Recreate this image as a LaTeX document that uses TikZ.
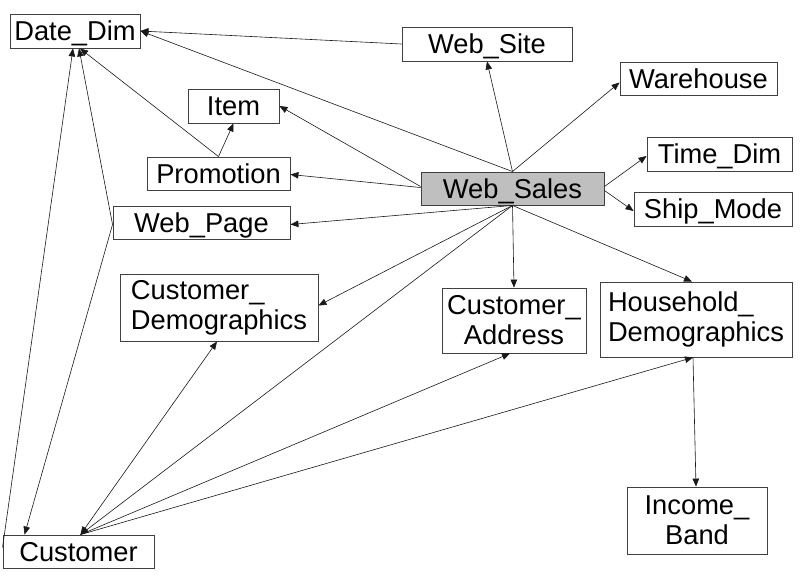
\documentclass[tikz,border=0pt]{standalone}
\usepackage{fontspec}
\setmainfont{Liberation Sans}
\usetikzlibrary{arrows.meta,calc}
\begin{document}
\begin{tikzpicture}[x=1pt,y=-1pt,
  tbl/.style={draw=black!75,line width=0.9pt,fill=white,inner sep=0pt,
    font=\fontsize{27.3}{30}\selectfont,align=center},
  one/.style={text height=19.5pt,text depth=0pt},
  conn/.style={draw=black!90,line width=0.6pt,-{Triangle[length=8pt,width=6.5pt]}},
  bconn/.style={draw=black!90,line width=0.6pt,{Triangle[length=8pt,width=6.5pt]}-{Triangle[length=8pt,width=6.5pt]}}]
\useasboundingbox[fill=white] (0,0) rectangle (803,576);
% nodes
\node[tbl,one,minimum width=130pt,minimum height=34pt] (dd) at (75,31) {Date\_Dim};
\node[tbl,one,minimum width=91pt,minimum height=34pt] (item) at (233.5,106) {Item};
\node[tbl,one,minimum width=143pt,minimum height=33pt] (promo) at (218.5,173.5) {Promotion};
\node[tbl,one,minimum width=177pt,minimum height=33pt] (wp) at (201.5,222.5) {Web\_Page};
\node[tbl,one,minimum width=170pt,minimum height=34pt] (wsite) at (487,44) {Web\_Site};
\node[tbl,one,minimum width=157pt,minimum height=33pt] (wh) at (698.5,78.5) {Warehouse};
\node[tbl,one,minimum width=145pt,minimum height=34pt] (td) at (719.5,154) {Time\_Dim};
\node[tbl,one,minimum width=158pt,minimum height=34pt] (sm) at (713,209) {Ship\_Mode};
\node[tbl,one,fill=black!25,minimum width=183pt,minimum height=33pt] (ws) at (512.5,188.5) {Web\_Sales};
\node[tbl,align=left,minimum width=198pt,minimum height=67pt] (cd) at (219,307.5) {Customer\_\\Demographics};
\node[tbl,one,minimum width=151pt,minimum height=33pt] (cust) at (78.5,551.5) {Customer};
\node[tbl,minimum width=144pt,minimum height=65pt] (ca) at (514,320.5) {Customer\_\\Address};
\node[tbl,align=left,minimum width=192pt,minimum height=75pt] (hd) at (696,319.5) {Household\_\\Demographics};
\node[tbl,minimum width=140pt,minimum height=67pt] (ib) at (697,520.5) {Income\_\\Band};
% connectors
\draw[conn] (wsite.west) -- (dd.east);
\draw[conn] (ws.north) -- (dd.east);
\draw[conn] (ws.north) -- (wsite.south);
\draw[conn] (ws.north) -- ($(wh.west)+(0,4)$);
\draw[conn] ($(ws.east)+(0,-2)$) -- ($(td.west)+(0,2)$);
\draw[conn] ($(ws.east)+(0,2)$) -- ($(sm.west)+(0,2)$);
\draw[conn] ($(ws.west)+(0,-2)$) -- (item.east);
\draw[conn] ($(ws.west)+(0,-1)$) -- ($(promo.east)+(0,1)$);
\draw[conn] (ws.south) -- ($(wp.east)+(0,2)$);
\draw[conn] (promo.north) -- (item.south);
\draw[conn] (promo.north) -- ($(dd.south)+(5,0)$);
\draw[conn] ($(wp.west)+(0,2)$) -- ($(dd.south)+(4,0)$);
\draw[conn] ($(wp.west)+(0,2)$) -- ($(cust.north west)+(22,0)$);
\draw[conn] ($(cust.west)+(0,-4)$) -- ($(dd.south)+(-2,0)$);
\draw[conn] (ws.south) -- ($(cd.east)+(0,-2)$);
\draw[conn] (ws.south) -- (ca.north);
\draw[conn] (ws.south) -- ($(hd.north)+(-4,0)$);
\draw[conn] (ws.south) -- ($(cust.north)+(2,0)$);
\draw[bconn] ($(cd.south)+(-2,0)$) -- ($(cust.north)+(2,0)$);
\draw[conn] ($(cust.north)+(2,0)$) -- ($(ca.south)+(-4,0)$);
\draw[conn] ($(cust.north)+(2,0)$) -- ($(hd.south)+(-3,0)$);
\draw[conn] ($(hd.south)+(-3,0)$) -- ($(ib.north)+(-1,0)$);
\end{tikzpicture}
\end{document}
